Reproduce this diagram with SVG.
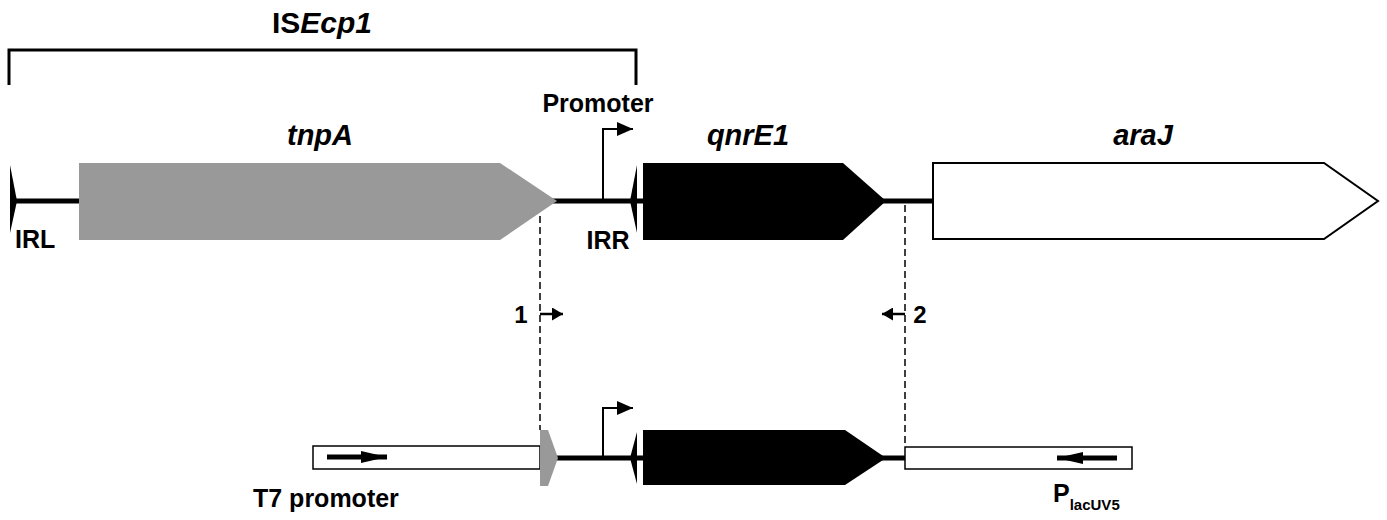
<svg xmlns="http://www.w3.org/2000/svg" width="1387" height="520" viewBox="0 0 1387 520">
<style>
text{font-family:"Liberation Sans",Arial,sans-serif;font-weight:bold;fill:#000}
.it{font-style:italic}
.lbl{font-size:25px}
.gene{font-size:29px;font-style:italic}
.bb{stroke:#000;stroke-width:5;fill:none}
.thin{stroke:#000;stroke-width:2;fill:none}
.pr{stroke:#000;stroke-width:2.5;fill:none}
.dash{stroke:#000;stroke-width:1.5;stroke-dasharray:7,4;fill:none}
.box{fill:#fff;stroke:#000;stroke-width:1.5}
</style>
<defs>
<marker id="ah" viewBox="0 0 10 10" refX="10" refY="5" markerWidth="16" markerHeight="14" markerUnits="userSpaceOnUse" orient="auto" preserveAspectRatio="none"><path d="M0,0 L10,5 L0,10 Z" fill="#000"/></marker>
<marker id="ahs" viewBox="0 0 10 10" refX="10" refY="5" markerWidth="11" markerHeight="13" markerUnits="userSpaceOnUse" orient="auto" preserveAspectRatio="none"><path d="M0,0 L10,5 L0,10 Z" fill="#000"/></marker>
<marker id="ahb" viewBox="0 0 10 10" refX="10" refY="5" markerWidth="26" markerHeight="12" markerUnits="userSpaceOnUse" orient="auto" preserveAspectRatio="none"><path d="M0,0 L10,5 L0,10 Z" fill="#000"/></marker>
</defs>

<g id="connectors">
<path class="dash" d="M540,205 V430"/>
<path class="dash" d="M905,205 V447"/>
<path class="pr" d="M540,314 H563" marker-end="url(#ahs)"/>
<path class="pr" d="M905,314 H882" marker-end="url(#ahs)"/>
</g>

<g id="isecp1">
<path d="M9,85 V50 H636 V85" stroke="#000" stroke-width="3" fill="none"/>
<text x="322" y="33" font-size="30" text-anchor="middle">IS<tspan class="it">Ecp1</tspan></text>
</g>

<g id="backbone-top">
<path class="bb" d="M12,201 H935"/>
</g>

<g id="irl">
<path d="M10,165 L17,201 L10,233 Z" fill="#000"/>
<text class="lbl" x="15" y="248">IRL</text>
</g>

<g id="tnpA">
<path d="M79,163 H500 L557,201 L500,240 H79 Z" fill="#999"/>
<text class="gene" x="320" y="145" text-anchor="middle">tnpA</text>
</g>

<g id="promoter-top">
<path class="thin" d="M603,201 V129 H633" marker-end="url(#ah)"/>
<text class="lbl" x="598" y="112" text-anchor="middle">Promoter</text>
</g>

<g id="irr">
<path d="M637,165 L630,201 L637,233 Z" fill="#000"/>
<text class="lbl" x="608" y="249" text-anchor="middle">IRR</text>
</g>

<g id="qnrE1">
<path d="M643,163 H843 L886,201 L843,240 H643 Z" fill="#000"/>
<text class="gene" x="748" y="145" text-anchor="middle">qnrE1</text>
</g>

<g id="araJ">
<path d="M933,163 H1324 L1378,201 L1324,239 H933 Z" fill="#fff" stroke="#000" stroke-width="2"/>
<text class="gene" x="1143" y="145" text-anchor="middle">araJ</text>
</g>

<g id="primer1">
<text font-size="24" x="521" y="323" text-anchor="middle">1</text>
</g>
<g id="primer2">
<text font-size="24" x="920" y="323" text-anchor="middle">2</text>
</g>

<g id="backbone-bottom">
<path class="bb" d="M556,458 H906"/>
</g>

<g id="t7">
<rect class="box" x="313" y="446" width="227" height="23"/>
<path stroke="#000" stroke-width="5" d="M327,457 H387" marker-end="url(#ahb)"/>
<text class="lbl" x="253" y="507">T7 promoter</text>
</g>

<g id="tnpA-frag">
<path d="M540,430 H548 L558,458 L548,486 H540 Z" fill="#999"/>
</g>

<g id="promoter-bottom">
<path class="thin" d="M603,458 V408 H633" marker-end="url(#ah)"/>
</g>

<g id="irr-bottom">
<path d="M637,432 L630,458 L637,484 Z" fill="#000"/>
</g>

<g id="qnrE1-bottom">
<path d="M643,430 H845 L886,458 L845,485 H643 Z" fill="#000"/>
</g>

<g id="placuv5">
<rect class="box" x="905" y="447" width="227" height="22"/>
<path stroke="#000" stroke-width="5" d="M1117,458 H1057" marker-end="url(#ahb)"/>
<text class="lbl" x="1053" y="502">P<tspan font-size="15" dy="8">lacUV5</tspan></text>
</g>
</svg>
